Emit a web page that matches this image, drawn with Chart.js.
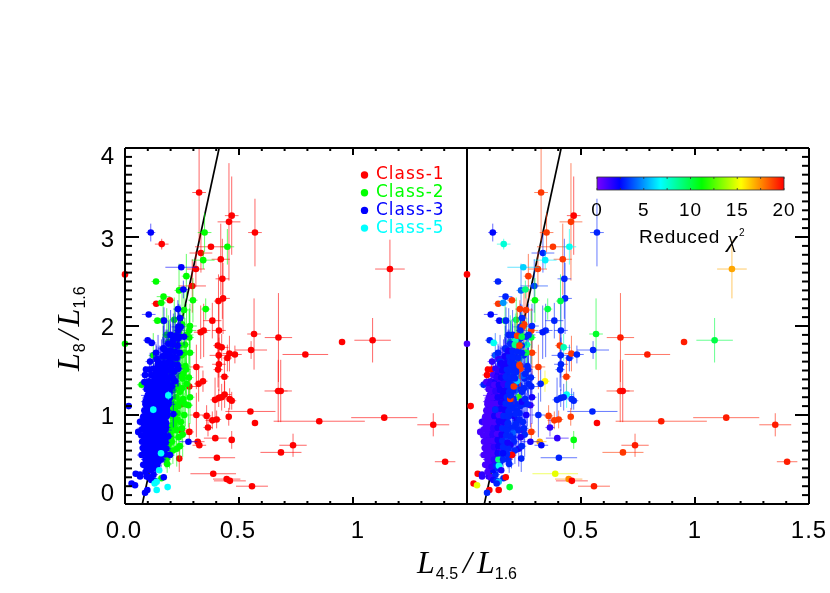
<!DOCTYPE html>
<html>
<head>
<meta charset="utf-8">
<style>
  html, body { margin: 0; padding: 0; background: #fff; }
  #wrap { position: relative; width: 830px; height: 593px; overflow: hidden; }
  canvas { position: absolute; left: 0; top: 0; }
</style>
<script src="https://cdn.jsdelivr.net/npm/chart.js@4"></script>
</head>
<body>
<div id="wrap">
  <canvas id="left-panel" width="830" height="593"></canvas>
  <canvas id="right-panel" width="830" height="593"></canvas>
</div>
<script>
  // values: x, y, x error, y error, reduced chi2
  const class1X = [.325,.161,.468,.456,.570,.377,.333,.420,.311,.427,.295,.430,.410,.137,.197,.383,.345,.412,.332,.566,.673,.553,.407,.424,.411,.449,.458,.482,.412,.408,.313,.436,.342,.323,.282,.672,.683,.437,.424,.411,.395,.459,.468,.248,.550,.455,.313,.358,.402,.383,.570,.364,.246,.282,.396,.468,.319,.326,.403,.238,.387,.446,.460,.557,.684,.952,1.086,.791,.852,1.137,1.352,1.404,.737,1.162,0];
  const class1Y = [3.50,2.92,3.24,3.17,3.05,2.89,2.82,2.75,2.64,2.53,2.45,2.31,2.28,2.25,2.29,2.06,1.95,1.95,1.93,1.91,1.87,1.73,1.78,1.76,1.67,1.64,1.69,1.68,1.57,1.51,1.54,1.43,1.38,1.35,1.32,1.27,1.27,1.23,1.20,1.19,1.17,1.18,1.16,1.12,1.04,.98,1.00,.99,.95,.94,.91,.86,.83,.81,.74,.72,.70,.66,.52,.51,.34,.28,.26,.20,.58,1.82,1.84,1.68,.93,.97,.89,.475,.66,2.64,2.58];
  const class1XErr = [.03,.03,.03,.05,.03,.07,.05,.04,.04,.03,.06,.03,.02,.02,.02,.04,.03,.03,.03,.03,.06,.07,.02,.03,.04,.02,.03,.03,.03,.02,.03,.02,.02,.02,.04,.06,.03,.03,.02,.03,.02,.02,.02,.02,.11,.01,.03,.02,.02,.03,.01,.02,.05,.02,.05,.01,.03,.03,.08,.01,.10,.06,.07,.07,.09,.01,.08,.10,.20,.145,.07,.045,.06,.065,.005];
  const class1YErr = [.55,.06,.44,.66,.38,.03,.22,.40,.20,.45,.30,.40,.30,.02,.02,.20,.30,.35,.30,.40,.50,.10,.15,.15,.25,.15,.20,.10,.30,.20,.25,.20,.12,.20,.15,.35,.35,.15,.15,.10,.25,.12,.10,.02,.02,.10,.25,.12,.10,.10,.01,.10,.10,.10,.01,.10,.02,.02,.01,.15,.01,.01,.01,.01,.02,.03,.25,.01,.01,.015,.13,.02,.13,.33,.01];
  const class1Chi = [19,7.5,20,19,3,19,3,19,19,3,3.5,3,10,19,19,3,3,3,2.8,10.5,19.5,3,19,8,3,3,19,3,3,3,19,19,15.5,3,3,19.5,20,7,3,3,3,3.2,3,3,3,19,3,19,19,19,20,1.5,1.5,19,1.5,11,17,2.5,3,3,15,17.5,20,19.5,19,19.5,10,19.5,19.5,19.5,19.5,19.5,19.5,17,20];

  const class2X = [.349,.449,.343,.269,.136,.237,.169,.159,.298,.354,.259,.142,.216,.282,0,.167,.183,.190,.285,.282,.263,.249,.285,.268,.253,.241,.285,.278,.234,.219,.219,.212,.253,.202,.227,.160,.073,.124,.210,.225,.235,.215,.245,.205,.230,.215,.250,.225,.205,.240,.215,.198,.230,.205,.215,.198,.225,.200,.205,.190,.210,.195,.180,.185,.175,.185,.190,.200,.170,.195,.220,.240,
    .265,.270,.255,.260,.245,.250,.235,.240,.260,.270,.250,.235,.255,.280,.265,.230];
  const class2Y = [3.05,2.89,2.74,2.56,2.50,2.40,2.33,2.26,2.29,2.19,2.18,2.06,2.07,1.95,1.80,2.06,1.90,1.82,2.00,1.87,1.79,1.67,1.70,1.51,1.41,1.26,1.20,1.11,1.10,1.05,.94,.87,.78,.75,.62,.29,1.34,1.67,1.75,1.62,1.55,1.48,1.44,1.40,1.33,1.28,1.30,1.20,1.18,1.15,1.12,1.08,1.02,.99,.90,.86,.83,.80,.70,.66,.60,.55,.50,.45,.98,1.22,1.45,1.60,1.65,1.72,1.85,1.78,
    1.55,1.35,1.18,1.00,.92,.85,.75,.65,1.70,1.90,2.02,1.92,1.46,1.42,1.12,.95];
  const class2XErr = [.03,.03,.05,.02,.02,.02,.03,.02,.02,.02,.03,.02,.02,.03,.005,.02,.02,.02,.03,.02,.02,.02,.02,.02,.02,.02,.02,.02,.02,.02,.02,.02,.02,.02,.02,.02,.02,.02,.03,.02,.02,.02,.02,.02,.03,.02,.02,.02,.02,.02,.02,.02,.02,.02,.02,.02,.02,.02,.02,.02,.02,.02,.02,.02,.02,.02,.02,.02,.02,.02,.02,.02,
    .02,.02,.02,.02,.02,.02,.02,.02,.02,.03,.02,.02,.02,.02,.02,.02];
  const class2YErr = [.22,.20,.10,.25,.03,.30,.03,.03,.25,.12,.20,.03,.25,.25,.01,.25,.30,.30,.25,.30,.30,.30,.25,.30,.25,.30,.30,.25,.30,.25,.30,.25,.25,.20,.20,.03,.04,.25,.30,.25,.35,.30,.30,.25,.30,.25,.30,.25,.25,.30,.25,.20,.25,.20,.25,.20,.20,.20,.15,.15,.15,.15,.10,.10,.20,.25,.30,.30,.25,.35,.30,.30,
    .30,.25,.25,.25,.20,.20,.15,.15,.30,.35,.35,.30,.30,.25,.25,.20];
  const class2Chi = [19,7,6.5,19,3,4,3,5,11,10,19,2.5,10,19,1,10,3,9,3,10,8,3,19,3,3,3,2,1.5,3,3,2,3,3,3,2,3,3,4,19,10,3,3,4,3,3,3,3,12,3,2,3,3,3,2,3,3,3,4,3,2,3,3,3,3,3,2,9,19,3,10,12,3,
    3,3,3,2,3,3,2,3,10,3,19,9,3,3,3,3];

  const class3X = [.113,.247,.256,.232,.104,.171,.241,.234,.244,.0995,.117,.234,.259,.234,.212,.171,.139,.175,.110,.107,.088,.095,.146,.197,.197,.234,.205,.219,.016,.278,.136,.092,.085,.098,.168,.204,.175,.212,.066,.058,.073,.080,.047,.066,.029,.044,.098,.088,.095,.197,.170,.066,
    .105,.125,.090,.115,.135,.100,.120,.145,.090,.110,.130,.150,.085,.105,.125,.145,.165,.090,.110,.130,.150,.170,.085,.100,.120,.140,.160,.175,.090,.110,.130,.150,.170,.085,.100,.120,.140,.160,.180,.080,.105,.125,.145,.165,.090,.110,.130,.150,.170,.185,.095,.115,.135,.155,.175,.090,.110,.130,.150,.170,.190,.100,.120,.140,.160,.180,.095,.115,.135,.155,.175,.195,.105,.125,.145,.165,.185,.115,.135,.155,.175,.125,.160,.145,.185,
    .115,.130, .095,.108,.128,.140, .098,.118,.138,.158, .095,.115,.135,.155,.175, .078,.098,.118,.138,.158,.182, .075,.095,.115,.135,.155,.178, .072,.092,.112,.132,.152,.172,.190, .075,.095,.115,.135,.155,.175, .080,.100,.120,.140,.160,.180,.178, .080,.100,.120,.140,.160,.180, .085,.105,.125,.145,.165,.185,.182, .090,.110,.130,.150,.170,.190,.186, .095,.115,.135,.155,.175,.195,.190, .105,.125,.145,.165,.185,.195, .120,.140,.160,.180,.200,.205, .130,.150,.170,.190,.210, .135,.155,.175,.195,.215, .150,.170,.190,.210,.230, .165,.185,.205,.225, .180,.200,.220,.240, .190,.210,.230, .200,.220,.240];
  const class3Y = [3.05,2.66,2.41,2.19,2.13,2.06,2.09,1.99,1.99,1.84,1.81,1.95,1.88,1.86,1.84,1.74,1.63,1.67,1.60,1.51,1.45,1.36,1.56,1.62,1.51,1.52,1.43,1.38,1.10,.70,1.70,1.51,1.37,1.34,1.75,1.54,1.53,1.01,.925,.81,.55,.44,.34,.31,.23,.21,.157,.127,.31,.55,.30,.33,
    .30,.33,.36,.38,.40,.44,.46,.47,.50,.52,.54,.53,.58,.60,.61,.62,.60,.66,.68,.67,.69,.66,.72,.75,.74,.76,.74,.72,.80,.82,.81,.83,.80,.87,.89,.88,.90,.88,.86,.94,.96,.95,.97,.95,1.01,1.03,1.02,1.04,1.02,1.00,1.08,1.10,1.09,1.11,1.09,1.15,1.17,1.16,1.18,1.16,1.14,1.22,1.24,1.23,1.25,1.23,1.29,1.31,1.30,1.32,1.30,1.28,1.38,1.37,1.39,1.40,1.36,1.45,1.44,1.47,1.46,1.52,1.55,1.60,1.58,
    .27,.26, .41,.42,.43,.43, .49,.50,.50,.50, .56,.57,.57,.57,.56, .63,.64,.64,.65,.64,.62, .70,.71,.71,.72,.71,.69, .77,.78,.78,.79,.78,.77,.76, .84,.85,.85,.86,.85,.83, .91,.92,.92,.93,.92,.91,.90, .98,.99,.99,1.00,.99,.98, 1.05,1.06,1.06,1.07,1.06,1.05,1.04, 1.12,1.13,1.13,1.14,1.13,1.12,1.11, 1.19,1.20,1.20,1.21,1.20,1.19,1.18, 1.27,1.27,1.28,1.27,1.26,1.25, 1.34,1.34,1.35,1.34,1.33,1.32, 1.42,1.42,1.43,1.42,1.41, 1.50,1.50,1.51,1.50,1.49, 1.58,1.58,1.59,1.57,1.56, 1.66,1.66,1.65,1.64, 1.72,1.72,1.71,1.70, 1.80,1.79,1.78, 1.90,1.89,1.88];
  const class3XErr = [.02,.07,.02,.02,.03,.01,.02,.03,.02,.02,.02,.02,.02,.02,.02,.02,.02,.02,.02,.02,.02,.02,.02,.03,.02,.02,.02,.02,.005,.04,.02,.01,.02,.02,.02,.02,.03,.02,.01,.01,.02,.015,.01,.015,.01,.01,.01,.01,.02,.02,.01,.012,
    .02,.02,.01,.02,.02,.02,.02,.03,.02,.02,.02,.03,.01,.02,.02,.02,.03,.02,.02,.03,.02,.02,.01,.02,.02,.03,.02,.02,.02,.02,.03,.02,.03,.01,.02,.02,.02,.03,.02,.01,.02,.03,.02,.02,.02,.02,.02,.03,.02,.03,.02,.02,.03,.02,.02,.02,.02,.03,.02,.02,.02,.03,.02,.03,.02,.02,.02,.02,.02,.03,.02,.03,.02,.02,.02,.03,.02,.02,.02,.02,.03,.02,.02,.02,.03,
    .02,.02, .015,.02,.02,.02, .02,.02,.02,.02, .015,.02,.02,.03,.02, .015,.02,.02,.03,.02,.02, .015,.02,.03,.02,.02,.02, .015,.02,.02,.03,.02,.02,.02, .015,.02,.03,.02,.02,.03, .015,.02,.02,.03,.02,.02,.02, .015,.02,.03,.02,.03,.02, .015,.02,.02,.03,.02,.02,.02, .015,.02,.03,.02,.02,.03,.02, .02,.02,.02,.03,.02,.02,.02, .02,.02,.03,.02,.02,.02, .02,.03,.02,.02,.02,.02, .02,.02,.03,.02,.02, .02,.02,.02,.03,.02, .02,.02,.03,.02,.02, .02,.03,.02,.02, .02,.02,.03,.02, .02,.02,.02, .03,.02,.02];
  const class3YErr = [.10,.01,.10,.10,.01,.15,.15,.20,.10,.02,.02,.30,.10,.20,.30,.30,.15,.20,.10,.10,.10,.08,.20,.30,.20,.20,.20,.20,.01,.01,.10,.03,.06,.06,.25,.20,.25,.15,.05,.05,.03,.03,.02,.03,.02,.02,.02,.02,.04,.05,.03,.03,
    .04,.05,.03,.06,.06,.06,.08,.08,.05,.08,.10,.08,.05,.10,.10,.12,.10,.06,.12,.12,.15,.10,.06,.10,.12,.15,.15,.12,.08,.12,.15,.15,.15,.06,.10,.15,.18,.15,.12,.06,.12,.18,.18,.15,.08,.15,.20,.20,.18,.15,.10,.15,.18,.22,.20,.10,.15,.20,.20,.22,.18,.12,.18,.20,.25,.22,.12,.18,.25,.25,.22,.20,.15,.20,.25,.25,.25,.15,.25,.30,.25,.20,.30,.30,.30,
    .03,.03, .05,.06,.06,.05, .07,.08,.08,.09, .09,.10,.10,.10,.08, .08,.11,.12,.12,.12,.10, .08,.12,.14,.14,.14,.12, .07,.10,.14,.16,.16,.14,.10, .08,.12,.16,.18,.18,.14, .07,.12,.18,.20,.20,.16,.12, .08,.14,.20,.22,.20,.16, .08,.14,.20,.24,.22,.18,.14, .10,.16,.22,.24,.24,.20,.16, .10,.16,.24,.26,.24,.22,.18, .12,.20,.26,.28,.24,.20, .14,.22,.28,.28,.24,.20, .16,.24,.28,.26,.22, .18,.26,.30,.28,.24, .20,.28,.30,.26,.24, .22,.30,.28,.24, .24,.30,.28,.24, .26,.30,.26, .28,.30,.26];
  const class3Chi = [2.5,6,9,19,2.5,3,3,3,19,3,7,3,3,3,8,3,1.5,3,1.5,20,20,1.5,3,3,3,19,3,6,20,2,3,20,1,1.5,3,3,3,3,1.5,1,1,1,20,1.5,20,15,20,3,1.5,20,20,1.5,
    1,3,1,2.5,3,1,1.5,3,1,1,1.5,3,1,1,2,1,3,1,1.5,1,2,3,1,1.5,1,2.5,1,4,1,1.5,2,1,3,1,1,1.5,2,1,3,1,1,2,1,2,1,1,1.5,1,2.5,3,1.5,1,2,1,3,1,1.5,2,1,2,3,1,2,1,2.5,3,1,1.5,2,1,3,3,1.5,2,1,3,3,1,2,1,3,1.5,2,3,3,
    2,3, 1,1.5,3,7, 1,1.5,9,3, 1,1,2,3,3, 1,1,1.5,2,3,3, 1,1,1,2,3,2, 1,1,1.5,1,2,3,3, 1,1,1.5,2,3,3, 1,1,1,2,2,3,3, 1,1,2,1,3,3, 1,1,1.5,2,2,3,3, 1,1,1,2,3,3,3, 1,1,2,2,3,3,19, 1,1.5,2,2,3,3, 1,2,1.5,3,3,19, 1.5,2,3,3,3, 1.5,2,3,3,3, 2,2,3,3,19, 2,3,3,3, 2,3,3,3, 3,9,19, 3,19,10];

  const class5X = [.190,.124,.158,.150,.139,.139,.187,.130];
  const class5Y = [1.22,1.06,.57,.38,.25,.157,.19,.23];
  const class5XErr = [.01,.01,.01,.01,.01,.01,.01,.01];
  const class5YErr = [.05,.04,.03,.02,.02,.01,.01,.02];
  const class5Chi = [3,3,2.5,2,5.5,20,10.5,3];

  const relationX = [.076, .413];
  const relationY = [0, 4];

  const legendLabels = ['Class-1', 'Class-2', 'Class-3', 'Class-5'];
  const legendColors = ['#ff0000', '#00ff00', '#0000ff', '#00ffff'];
  const colorbarTicks = ['0', '5', '10', '15', '20'];

  const rainbowStops = [[0, [122, 0, 255]], [.12, [0, 0, 255]], [.34, [0, 255, 255]], [.56, [0, 255, 0]], [.77, [255, 255, 0]], [1, [255, 0, 0]]];

  function chiColor(chi) {
    const t = Math.min(chi / 20, 1);
    for (let i = 1; i < rainbowStops.length; i++) {
      if (t <= rainbowStops[i][0]) {
        const a = rainbowStops[i - 1], b = rainbowStops[i];
        const f = (t - a[0]) / (b[0] - a[0]);
        const c = a[1].map((v, k) => Math.round(v + (b[1][k] - v) * f));
        return 'rgb(' + c.join(',') + ')';
      }
    }
    return 'rgb(255,0,0)';
  }

  function pairs(xs, ys) {
    return xs.map((x, i) => ({ x: x, y: ys[i] }));
  }

  function classDataset(xs, ys, xErr, yErr, chi, color, byChi) {
    const colors = byChi ? chi.map(chiColor) : color;
    return {
      data: pairs(xs, ys),
      pointRadius: 3.3,
      pointBorderWidth: 0,
      pointBackgroundColor: colors,
      showLine: false,
      clip: false,
      xErr: xErr,
      yErr: yErr,
      barColors: byChi ? colors : xs.map(() => color)
    };
  }

  function buildDatasets(byChi) {
    // chart.js paints the first dataset last, so the top layer goes first
    return [
      classDataset(class5X, class5Y, class5XErr, class5YErr, class5Chi, '#00ffff', byChi),
      classDataset(class3X, class3Y, class3XErr, class3YErr, class3Chi, '#0000ff', byChi),
      classDataset(class2X, class2Y, class2XErr, class2YErr, class2Chi, '#00ff00', byChi),
      classDataset(class1X, class1Y, class1XErr, class1YErr, class1Chi, '#ff0000', byChi),
      {
        data: pairs(relationX, relationY),
        showLine: true,
        borderColor: '#000',
        borderWidth: 1.7,
        pointRadius: 0
      }
    ];
  }

  const errorBars = {
    id: 'errorBars',
    beforeDatasetDraw(chart, args) {
      const ds = chart.data.datasets[args.index];
      if (!ds.xErr) return;
      const a = chart.chartArea, sx = chart.scales.x, sy = chart.scales.y, ctx = chart.ctx;
      ctx.save();
      ctx.beginPath();
      ctx.rect(a.left, a.top, a.right - a.left, a.bottom - a.top);
      ctx.clip();
      ctx.globalAlpha = .6;
      ctx.lineWidth = 1;
      ds.data.forEach((p, i) => {
        const px = sx.getPixelForValue(p.x), py = sy.getPixelForValue(p.y);
        ctx.strokeStyle = ds.barColors[i];
        ctx.beginPath();
        ctx.moveTo(sx.getPixelForValue(p.x - ds.xErr[i]), py);
        ctx.lineTo(sx.getPixelForValue(p.x + ds.xErr[i]), py);
        ctx.moveTo(px, sy.getPixelForValue(p.y - ds.yErr[i]));
        ctx.lineTo(px, sy.getPixelForValue(p.y + ds.yErr[i]));
        ctx.stroke();
      });
      ctx.restore();
    }
  };

  function tickMarks(ctx, scale, major, len, start, dir, horizontal) {
    scale.ticks.forEach(t => {
      const p = scale.getPixelForValue(t.value);
      const l = major(t.value) ? len[0] : len[1];
      ctx.beginPath();
      if (horizontal) {
        ctx.moveTo(p, start);
        ctx.lineTo(p, start + dir * l);
      } else {
        ctx.moveTo(start, p);
        ctx.lineTo(start + dir * l, p);
      }
      ctx.stroke();
    });
  }

  // label, value, shift along the axis
  const xLabelsLeft = [['0.0', 0, -1], ['0.5', .5, -1], ['1', 1, 5]];
  const xLabelsRight = [['0.5', .5, 0], ['1', 1, 0], ['1.5', 1.5, 0]];
  const yLabels = [['0', 0, -10], ['1', 1, 2], ['2', 2, 2], ['3', 3, 3], ['4', 4, 9]];

  const frame = {
    id: 'frame',
    afterDraw(chart, args, opts) {
      const ctx = chart.ctx, a = chart.chartArea, sx = chart.scales.x, sy = chart.scales.y;
      const tenth = v => Math.round(v * 10);
      ctx.save();
      ctx.strokeStyle = '#000';
      ctx.fillStyle = '#000';
      ctx.lineWidth = 2;
      tickMarks(ctx, sx, v => tenth(v) % 5 === 0, [7, 3], a.bottom, -1, true);
      tickMarks(ctx, sx, v => tenth(v) % 5 === 0, [7, 3], a.top, 1, true);
      const edge = opts.side === 'left' ? a.left : a.right;
      tickMarks(ctx, sy, v => tenth(v) % 10 === 0, [14, 7], edge, opts.side === 'left' ? 1 : -1, false);
      ctx.beginPath();
      ctx.moveTo(a.left, a.top);
      ctx.lineTo(a.right, a.top);
      ctx.moveTo(a.left, a.bottom);
      ctx.lineTo(a.right, a.bottom);
      ctx.moveTo(edge, a.top);
      ctx.lineTo(edge, a.bottom);
      ctx.stroke();
      if (opts.side === 'left') {
        ctx.beginPath();
        ctx.moveTo(a.right, a.top);
        ctx.lineTo(a.right, a.bottom);
        ctx.stroke();
      }

      ctx.font = '24px "Liberation Sans"';
      ctx.letterSpacing = '1px';
      ctx.textAlign = 'center';
      ctx.textBaseline = 'middle';
      opts.xLabels.forEach(l => ctx.fillText(l[0], sx.getPixelForValue(l[1]) + l[2], 531));
      if (opts.side === 'left') {
        ctx.textAlign = 'right';
        yLabels.forEach(l => ctx.fillText(l[0], 115, sy.getPixelForValue(l[1]) + l[2]));
      }
      ctx.restore();
    }
  };

  function runs(ctx, x, y, parts) {
    parts.forEach(p => {
      ctx.font = p[1];
      ctx.fillText(p[0], x, y + p[2]);
      x += ctx.measureText(p[0]).width + p[3];
    });
  }

  const big = 'italic 32px "Liberation Serif"';
  const sub = '16px "Liberation Sans"';

  const annotationsLeft = {
    id: 'annotationsLeft',
    afterDraw(chart) {
      const ctx = chart.ctx;
      ctx.save();
      ctx.textBaseline = 'alphabetic';
      ctx.fillStyle = '#000';
      ctx.font = big;
      runs(ctx, 417, 573, [['L', big, 0, 1], ['4.5', sub, 6, 5], ['/', big, 0, 5], ['L', big, 0, 0], ['1.6', sub, 6, 0]]);
      ctx.translate(79, 371);
      ctx.rotate(-Math.PI / 2);
      runs(ctx, 0, 0, [['L', big, 0, 1], ['8', sub, 6, 4], ['/', big, 0, 4], ['L', big, 0, 0], ['1.6', sub, 6, 0]]);
      ctx.restore();

      ctx.save();
      ctx.textBaseline = 'middle';
      ctx.font = '17px "DejaVu Sans"';
      ctx.letterSpacing = '1px';
      legendLabels.forEach((label, i) => {
        const y = 175 + i * 17.7;
        ctx.fillStyle = legendColors[i];
        ctx.beginPath();
        ctx.arc(364.5, y, 3.7, 0, 2 * Math.PI);
        ctx.fill();
        ctx.fillText(label, 376, y);
      });
      ctx.restore();
    }
  };

  const colorbar = {
    id: 'colorbar',
    afterDraw(chart) {
      const ctx = chart.ctx;
      const x0 = 597, x1 = 784, y0 = 177, y1 = 190;
      ctx.save();
      const grad = ctx.createLinearGradient(x0, 0, x1, 0);
      rainbowStops.forEach(s => grad.addColorStop(s[0], 'rgb(' + s[1].join(',') + ')'));
      ctx.fillStyle = grad;
      ctx.fillRect(x0, y0, x1 - x0, y1 - y0);
      ctx.strokeStyle = '#333';
      ctx.lineWidth = .8;
      ctx.strokeRect(x0, y0, x1 - x0, y1 - y0);
      for (let i = 0; i <= 8; i++) {
        const x = x0 + (x1 - x0) * i / 8;
        ctx.beginPath();
        ctx.moveTo(x, y0);
        ctx.lineTo(x, y0 + 2);
        ctx.moveTo(x, y1);
        ctx.lineTo(x, y1 - 2);
        ctx.stroke();
      }
      ctx.fillStyle = '#000';
      ctx.textAlign = 'center';
      ctx.textBaseline = 'middle';
      ctx.font = '19px "Liberation Sans"';
      ctx.letterSpacing = '1px';
      colorbarTicks.forEach((t, i) => ctx.fillText(t, x0 + (x1 - x0) * i / 4, 211));
      ctx.textAlign = 'left';
      ctx.font = '19px "Liberation Sans"';
      ctx.letterSpacing = '.7px';
      ctx.fillText('Reduced', 639, 238);
      ctx.letterSpacing = '0px';
      ctx.font = 'italic 24px "Liberation Serif"';
      ctx.fillText('\u03c7', 727, 241);
      ctx.font = '10px "Liberation Sans"';
      ctx.fillText('2', 739, 233);
      ctx.restore();
    }
  };

  function makeChart(id, byChi, padding, showY, frameOpts, extra) {
    return new Chart(document.getElementById(id), {
      type: 'scatter',
      data: { datasets: buildDatasets(byChi) },
      plugins: [errorBars, frame, extra],
      options: {
        responsive: false,
        animation: false,
        layout: { padding: padding },
        plugins: {
          legend: { display: false },
          tooltip: { enabled: false },
          frame: frameOpts
        },
        scales: {
          x: {
            type: 'linear',
            min: 0,
            max: 1.5,
            grid: { display: false },
            border: { display: false },
            ticks: { stepSize: .1, autoSkip: false, display: false },
            afterFit(scale) { scale.height = 89; }
          },
          y: {
            type: 'linear',
            min: 0,
            max: 4,
            display: showY,
            grid: { display: false },
            border: { display: false },
            ticks: { stepSize: .1, autoSkip: false, display: false },
            afterFit(scale) { if (showY) scale.width = 125; }
          }
        }
      }
    });
  }

  makeChart('left-panel', false, { left: 0, right: 363, top: 148, bottom: 0 }, true,
    { side: 'left', xLabels: xLabelsLeft }, annotationsLeft);
  makeChart('right-panel', true, { left: 467, right: 21, top: 148, bottom: 0 }, false,
    { side: 'right', xLabels: xLabelsRight }, colorbar);
</script>
</body>
</html>
